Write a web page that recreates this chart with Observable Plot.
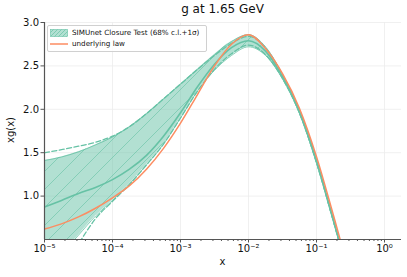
<!DOCTYPE html>
<html>
<head>
<meta charset="utf-8">
<script src="https://cdn.jsdelivr.net/npm/d3@7"></script>
<script src="https://cdn.jsdelivr.net/npm/@observablehq/plot@0.6"></script>
<style>
  html, body { margin: 0; padding: 0; background: #fff; }
  #wrap { position: relative; width: 407px; height: 277px; font-family: "DejaVu Sans", sans-serif; color: #111; }
  .ov { position: absolute; white-space: nowrap; }
  #title { left: 0; width: 445px; top: 2px; text-align: center; font-size: 12px; }
  #xlabel { left: 0; width: 445px; top: 256px; text-align: center; font-size: 10px; }
  #ylabel { left: 10px; top: 130px; font-size: 10px; transform: translate(-50%, -50%) rotate(-90deg); }
  #legend { left: 47px; top: 25px; width: 158px; height: 25px; border: 0.8px solid #d0d0d0; border-radius: 2px; background: rgba(255,255,255,0.85); font-size: 7.2px; }
  .row { position: absolute; left: 2px; display: flex; align-items: center; }
  .row span { margin-left: 4px; }
</style>
</head>
<body>
<div id="wrap"></div>
<script>
// log10(x) grid
const logX   = [-5, -4.75, -4.5, -4.25, -4, -3.75, -3.5, -3.25, -3, -2.75, -2.5, -2.25, -2, -1.75, -1.5, -1.25, -1, -0.75, -0.6, -0.45];
// 68% c.l. band
const bandHi = [1.41, 1.45, 1.51, 1.59, 1.68, 1.80, 1.95, 2.12, 2.29, 2.46, 2.63, 2.78, 2.86, 2.72, 2.40, 1.99, 1.42, 0.735, 0.32, -0.03];
const bandLo = [0.10, 0.33, 0.55, 0.77, 0.95, 1.14, 1.36, 1.60, 1.90, 2.21, 2.45, 2.62, 2.72, 2.62, 2.35, 1.95, 1.38, 0.70, 0.29, -0.07];
// central value
const central = [0.875, 0.95, 1.03, 1.10, 1.19, 1.31, 1.47, 1.69, 1.96, 2.26, 2.52, 2.71, 2.79, 2.67, 2.375, 1.97, 1.40, 0.718, 0.305, -0.05];
// 1 sigma lines
const sigUp  = [1.50, 1.535, 1.575, 1.62, 1.69, 1.80, 1.95, 2.12, 2.29, 2.46, 2.62, 2.76, 2.84, 2.71, 2.395, 1.985, 1.415, 0.73, 0.315, -0.035];
const sigDn  = [-0.20, 0.15, 0.45, 0.74, 0.94, 1.135, 1.36, 1.60, 1.90, 2.21, 2.46, 2.64, 2.74, 2.63, 2.355, 1.955, 1.385, 0.705, 0.295, -0.065];
// underlying law
const law    = [0.62, 0.68, 0.76, 0.86, 0.98, 1.12, 1.31, 1.55, 1.84, 2.17, 2.50, 2.75, 2.86, 2.70, 2.41, 2.01, 1.455, 0.776, 0.36, 0.02];

const xDomain = [1e-5, Math.pow(10, 0.25)];
const yDomain = [0.5, 3.0];
const xMajor = [1e-5, 1e-4, 1e-3, 1e-2, 1e-1, 1];
const xMinor = [];
for (let k = -5; k <= -1; k++) for (let m = 2; m <= 9; m++) xMinor.push(m * Math.pow(10, k));
const yTicks = [1.0, 1.5, 2.0, 2.5, 3.0];
const sup = {"-": "⁻", "0": "⁰", "1": "¹", "2": "²", "3": "³", "4": "⁴", "5": "⁵", "6": "⁶", "7": "⁷", "8": "⁸", "9": "⁹"};
const fmtX = d => "10" + String(Math.round(Math.log10(d))).split("").map(c => sup[c]).join("");

const data = logX.map((l, i) => ({
  x: Math.pow(10, l), hi: bandHi[i], lo: bandLo[i], c: central[i], up: sigUp[i], dn: sigDn[i], law: law[i]
}));

const green = "#66c2a5", orange = "#fc8d62";
const curve = "monotone-x";

const svg = Plot.plot({
  width: 407, height: 277,
  marginLeft: 44, marginRight: 6, marginTop: 22, marginBottom: 38,
  style: { fontFamily: "DejaVu Sans", background: "white", overflow: "visible" },
  x: { type: "log", domain: xDomain },
  y: { domain: yDomain },
  marks: [
    Plot.gridX(xMajor, { stroke: "#ececec", strokeOpacity: 1, strokeWidth: 0.8 }),
    Plot.gridY(yTicks, { stroke: "#ececec", strokeOpacity: 1, strokeWidth: 0.8 }),
    Plot.areaY(data, { x: "x", y1: "lo", y2: "hi", fill: green, fillOpacity: 0.5, curve, clip: true }),
    Plot.areaY(data, { x: "x", y1: "lo", y2: "hi", fill: "url(#hatch)", curve, clip: true }),
    Plot.lineY(data, { x: "x", y: "hi", stroke: green, strokeWidth: 0.8, curve, clip: true }),
    Plot.lineY(data, { x: "x", y: "lo", stroke: green, strokeWidth: 0.8, curve, clip: true }),
    Plot.lineY(data, { x: "x", y: "up", stroke: green, strokeWidth: 1.3, strokeDasharray: "5,2.5", curve, clip: true }),
    Plot.lineY(data, { x: "x", y: "dn", stroke: green, strokeWidth: 1.3, strokeDasharray: "5,2.5", curve, clip: true }),
    Plot.lineY(data, { x: "x", y: "c", stroke: green, strokeWidth: 1.6, curve, clip: true }),
    Plot.lineY(data, { x: "x", y: "law", stroke: orange, strokeWidth: 1.5, curve, clip: true }),
    Plot.ruleY([yDomain[0]], { stroke: "#555", strokeWidth: 1.2 }),
    Plot.ruleX([xDomain[0]], { stroke: "#555", strokeWidth: 1.2 }),
    Plot.axisX(xMinor, { tickSize: 2, text: null, stroke: "#555", label: null }),
    Plot.axisX(xMajor, { tickSize: 3.5, tickPadding: 2, tickFormat: fmtX, fontSize: 10, stroke: "#555", fill: "#111", label: null }),
    Plot.axisY(yTicks, { tickSize: 3.5, tickPadding: 2, tickFormat: d => d.toFixed(1), fontSize: 10, stroke: "#555", fill: "#111", label: null })
  ]
});

const ns = "http://www.w3.org/2000/svg";
const defs = document.createElementNS(ns, "defs");
defs.innerHTML = '<pattern id="hatch" patternUnits="userSpaceOnUse" width="18" height="18">' +
  '<path d="M-4.5,4.5 l9,-9 M0,18 l18,-18 M13.5,22.5 l9,-9" stroke="' + green + '" stroke-width="0.6" fill="none"/></pattern>';
svg.insertBefore(defs, svg.firstChild);

const wrap = document.getElementById("wrap");
wrap.appendChild(svg);

function addDiv(id, html) {
  const d = document.createElement("div");
  d.id = id; d.className = "ov"; d.innerHTML = html;
  wrap.appendChild(d);
  return d;
}
addDiv("title", "g at 1.65 GeV");
addDiv("xlabel", "x");
addDiv("ylabel", "xg(x)");
addDiv("legend",
  '<div class="row" style="top:2px"><svg width="18" height="8"><rect x="0.5" y="0.5" width="17" height="7" fill="' + green + '" fill-opacity="0.5" stroke="' + green + '" stroke-width="0.6"/><rect x="0.5" y="0.5" width="17" height="7" fill="url(#hatch2)"/>' +
  '<defs><pattern id="hatch2" patternUnits="userSpaceOnUse" width="4" height="4"><path d="M-1,1 l2,-2 M0,4 l4,-4 M3,5 l2,-2" stroke="' + green + '" stroke-width="0.7"/></pattern></defs></svg><span>SIMUnet Closure Test (68% c.l.+1σ)</span></div>' +
  '<div class="row" style="top:13px"><svg width="18" height="8"><line x1="0" y1="4" x2="18" y2="4" stroke="' + orange + '" stroke-width="1.5"/></svg><span>underlying law</span></div>');
</script>
</body>
</html>
